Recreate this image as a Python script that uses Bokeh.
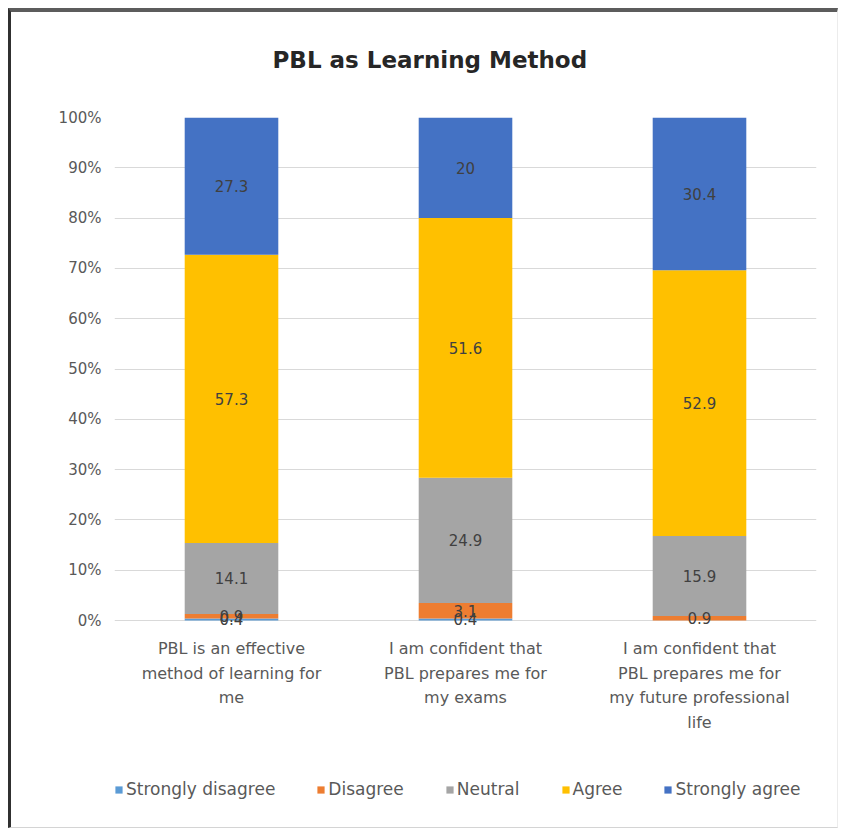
from bokeh.plotting import figure
from bokeh.models import (ColumnDataSource, LabelSet, Legend, LegendItem,
                          NumeralTickFormatter, FixedTicker, Range1d, FactorRange)
from bokeh.core.properties import value
from bokeh.embed import file_html
from bokeh.resources import INLINE

# ---- data ----
categories = [
    "PBL is an effective\nmethod of learning for\nme",
    "I am confident that\nPBL prepares me for\nmy exams",
    "I am confident that\nPBL prepares me for\nmy future professional\nlife",
]
series = ["Strongly disagree", "Disagree", "Neutral", "Agree", "Strongly agree"]
strongly_disagree = [0.4, 0.4, 0.0]
disagree = [0.9, 3.1, 0.9]
neutral = [14.1, 24.9, 15.9]
agree = [57.3, 51.6, 52.9]
strongly_agree = [27.3, 20.0, 30.4]
colors = ["#5B9BD5", "#ED7D31", "#A5A5A5", "#FFC000", "#4472C4"]
y_ticks = [0.0, 0.1, 0.2, 0.3, 0.4, 0.5, 0.6, 0.7, 0.8, 0.9, 1.0]

values = [strongly_disagree, disagree, neutral, agree, strongly_agree]
totals = [sum(col) for col in zip(*values)]

data = {"cat": categories}
for name, vals in zip(series, values):
    data[name] = [v / t for v, t in zip(vals, totals)]
src = ColumnDataSource(data)

# label positions (segment midpoints, 100% stacked)
lx, ly, lt = [], [], []
for i, c in enumerate(categories):
    base = 0.0
    for vals in values:
        frac = vals[i] / totals[i]
        if vals[i] > 0:
            lx.append(c)
            ly.append(base + frac / 2)
            lt.append("%g" % vals[i])
        base += frac
lsrc = ColumnDataSource(dict(x=lx, y=ly, text=lt))

FONT = "DejaVu Sans"
TXT = "#595959"

# layout: 503 px for 0..100 %, 200 px of room below for category text + legend
PLOT_PX, BELOW_PX = 503, 200
FIRST_LINE_PX, LINE_PX = 28, 24.6
y_start = -BELOW_PX / PLOT_PX

p = figure(x_range=FactorRange(*categories), y_range=Range1d(y_start, 1),
           frame_width=702, frame_height=PLOT_PX + BELOW_PX,
           output_backend="svg", toolbar_location=None,
           min_border_left=103, min_border_right=21, min_border_top=105,
           min_border_bottom=7)
p.styles = {"margin-left": "8px", "margin-top": "8px",
            "border-top": "4px solid #5c5c5c", "border-left": "3px solid #303030",
            "border-bottom": "1px solid #d4d4d4", "border-right": "1px solid #ececec"}

rs = p.vbar_stack(series, x="cat", width=0.4, color=colors, line_color=None, source=src)

labels = LabelSet(x="x", y="y", text="text", source=lsrc, text_align="center",
                  text_baseline="middle", text_font=value(FONT),
                  text_font_size="15px", text_color="#404040")
p.add_layout(labels)

# category labels under the bars, one centred line at a time
cx, cy, ct = [], [], []
for c in categories:
    for j, line in enumerate(c.split("\n")):
        cx.append(c)
        cy.append(-(FIRST_LINE_PX + j * LINE_PX) / PLOT_PX)
        ct.append(line)
csrc = ColumnDataSource(dict(x=cx, y=cy, text=ct))
cat_labels = LabelSet(x="x", y="y", text="text", source=csrc, text_align="center",
                      text_baseline="middle", text_font=value(FONT),
                      text_font_size="16px", text_color=TXT)
p.add_layout(cat_labels)

p.title.text = "PBL as Learning Method\n "
p.title.text_font = FONT
p.title.text_font_size = "23px"
p.title.text_font_style = "bold"
p.title.text_color = "#262626"
p.title.align = "left"
p.title.offset = 158
p.title.standoff = 37

p.yaxis.ticker = FixedTicker(ticks=y_ticks)
p.yaxis.formatter = NumeralTickFormatter(format="0%")
p.yaxis.axis_line_color = None
p.yaxis.major_tick_line_color = None
p.yaxis.minor_tick_line_color = None
p.yaxis.major_label_text_font = FONT
p.yaxis.major_label_text_font_size = "15px"
p.yaxis.major_label_text_color = TXT
p.yaxis.major_label_standoff = 7

p.xaxis.visible = False
p.xgrid.grid_line_color = None
p.ygrid.grid_line_color = "#D9D9D9"
p.outline_line_color = None
p.x_range.range_padding = 0.0

legend = Legend(items=[LegendItem(label=s, renderers=[r]) for s, r in zip(series, rs)],
                orientation="horizontal", location=(0, 21),
                label_text_font=FONT, label_text_font_size="17px",
                label_text_color=TXT, glyph_width=9, glyph_height=9,
                label_standoff=3, spacing=41, border_line_color=None,
                background_fill_alpha=0, margin=0, padding=0)
p.add_layout(legend)

open("out.html", "w").write(file_html(p, INLINE))
